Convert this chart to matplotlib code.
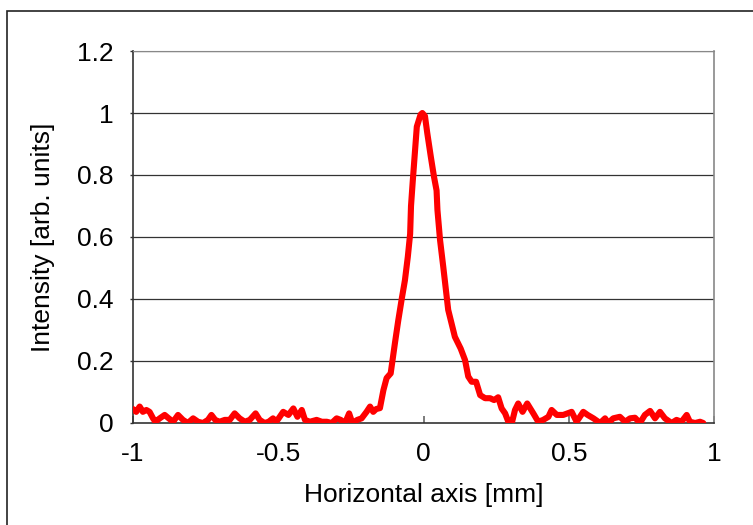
import matplotlib
matplotlib.use("Agg")
import matplotlib.pyplot as plt
from matplotlib.patches import Rectangle

plt.rcParams['font.family'] = ['Liberation Sans', 'DejaVu Sans']

x_mm = [-1.0, -0.989, -0.977, -0.966, -0.954, -0.943, -0.931, -0.923, -0.908, -0.891,
        -0.877, -0.862, -0.845, -0.828, -0.811, -0.793, -0.776, -0.759, -0.742, -0.730,
        -0.717, -0.702, -0.684, -0.667, -0.650, -0.633, -0.615, -0.598, -0.578, -0.564,
        -0.547, -0.533, -0.518, -0.507, -0.500, -0.483, -0.465, -0.448, -0.434, -0.419,
        -0.408, -0.391, -0.368, -0.350, -0.333, -0.316, -0.299, -0.285, -0.270, -0.256,
        -0.245, -0.228, -0.213, -0.196, -0.184, -0.173, -0.163, -0.150, -0.138, -0.127,
        -0.113, -0.098, -0.087, -0.075, -0.064, -0.054, -0.046, -0.043, -0.037, -0.029,
        -0.023, -0.010, -0.004, 0.005, 0.013, 0.025, 0.036, 0.045, 0.048, 0.057,
        0.068, 0.077, 0.085, 0.097, 0.108, 0.128, 0.143, 0.154, 0.166, 0.181,
        0.195, 0.212, 0.229, 0.243, 0.257, 0.269, 0.281, 0.292, 0.304, 0.315,
        0.326, 0.341, 0.357, 0.378, 0.395, 0.412, 0.430, 0.441, 0.459, 0.481,
        0.510, 0.527, 0.550, 0.565, 0.585, 0.608, 0.625, 0.636, 0.653, 0.676,
        0.694, 0.711, 0.728, 0.745, 0.762, 0.780, 0.797, 0.814, 0.831, 0.854,
        0.871, 0.888, 0.906, 0.917, 0.935, 0.952, 0.963]
intensity = [0.045, 0.036, 0.053, 0.036, 0.042, 0.036, 0.015, 0.004, 0.015, 0.026,
             0.015, 0.004, 0.026, 0.010, 0.000, 0.015, 0.004, 0.000, 0.010, 0.026,
             0.010, 0.004, 0.010, 0.010, 0.031, 0.015, 0.004, 0.010, 0.031, 0.010,
             0.000, 0.004, 0.015, 0.004, 0.013, 0.036, 0.026, 0.047, 0.020, 0.042,
             0.010, 0.004, 0.010, 0.004, 0.004, 0.000, 0.015, 0.010, 0.000, 0.031,
             0.000, 0.010, 0.015, 0.036, 0.053, 0.036, 0.045, 0.048, 0.106, 0.145,
             0.160, 0.260, 0.330, 0.400, 0.460, 0.536, 0.610, 0.700, 0.780, 0.880,
             0.956, 0.995, 1.000, 0.990, 0.935, 0.860, 0.795, 0.750, 0.687, 0.590,
             0.504, 0.430, 0.365, 0.320, 0.278, 0.240, 0.203, 0.150, 0.133, 0.133,
             0.090, 0.080, 0.080, 0.074, 0.083, 0.047, 0.031, 0.004, 0.000, 0.042,
             0.063, 0.036, 0.063, 0.031, 0.004, 0.010, 0.020, 0.042, 0.026, 0.026,
             0.036, 0.004, 0.036, 0.026, 0.015, 0.000, 0.015, 0.000, 0.015, 0.020,
             0.004, 0.015, 0.017, 0.000, 0.026, 0.039, 0.015, 0.036, 0.015, 0.000,
             0.010, 0.004, 0.026, 0.004, 0.000, 0.004, 0.000]

x_ticks = [-1, -0.5, 0, 0.5, 1]
x_tick_labels = ['-1', '-0.5', '0', '0.5', '1']
y_ticks = [0, 0.2, 0.4, 0.6, 0.8, 1.0, 1.2]
y_tick_labels = ['0', '0.2', '0.4', '0.6', '0.8', '1', '1.2']

W, H = 753, 525
fig = plt.figure(figsize=(W / 100, H / 100), dpi=100)
ax = fig.add_axes([133 / W, 1 - 423 / H, (714 - 133) / W, (423 - 51) / H])

ax.plot(x_mm, intensity, color='#FF0000', lw=4.4, solid_joinstyle='round',
        solid_capstyle='round', zorder=3)

ax.set_xlim(-1, 1)
ax.set_ylim(0, 1.2)
ax.set_xticks(x_ticks)
ax.set_xticklabels(x_tick_labels)
ax.set_yticks(y_ticks)
ax.set_yticklabels(y_tick_labels)

for y in y_ticks[1:]:
    ax.axhline(y, color='#333333', lw=0.9, zorder=1)

ax.tick_params(axis='x', direction='in', length=5, width=1.2, color='#666666',
               labelsize=19, pad=14)
ax.tick_params(axis='y', direction='out', length=2, width=1, color='#333333',
               labelsize=19, pad=12)

for side in ['left', 'bottom']:
    ax.spines[side].set_color('#333333')
    ax.spines[side].set_linewidth(1.2)
ax.spines['top'].set_color('#888888')
ax.spines['right'].set_color('#888888')
ax.spines['right'].set_linewidth(1.2)

ax.set_xlabel('Horizontal axis [mm]', fontsize=19, labelpad=12)
ax.set_ylabel('Intensity [arb. units]', fontsize=19, labelpad=16)

fig.patches.append(Rectangle((7 / W, -0.1), 1.2, 1 - 11 / H + 0.1,
                             transform=fig.transFigure, fill=False,
                             edgecolor='#222222', lw=1.2))

fig.savefig('out.png', dpi=100)
